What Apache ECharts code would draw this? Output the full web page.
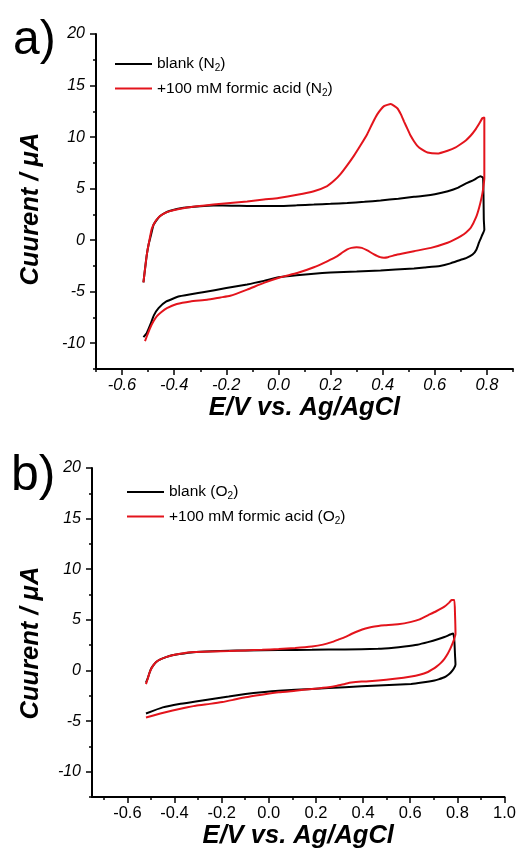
<!DOCTYPE html>
<html>
<head>
<meta charset="utf-8">
<script src="https://cdn.jsdelivr.net/npm/echarts@6/dist/echarts.min.js"></script>
<style>html,body{margin:0;padding:0;background:#fff}#c{width:519px;height:865px}</style>
</head>
<body>
<div id="c"></div>
<script>
// ---- Data (E in V vs Ag/AgCl, current in µA) ----
const blankN2 = [[-0.518,-4.1],[-0.51,-2.4],[-0.505,-1.4],[-0.498,-0.4],[-0.49,0.4],[-0.479,1.5],[-0.466,2.0],[-0.454,2.35],[-0.435,2.65],[-0.415,2.85],[-0.39,3.02],[-0.364,3.15],[-0.3,3.3],[-0.249,3.36],[-0.18,3.34],[-0.12,3.32],[0.0,3.32],[0.07,3.38],[0.136,3.45],[0.2,3.52],[0.264,3.6],[0.33,3.72],[0.392,3.85],[0.46,4.02],[0.52,4.2],[0.56,4.3],[0.6,4.45],[0.65,4.75],[0.69,5.1],[0.72,5.5],[0.75,5.85],[0.775,6.2],[0.785,6.05],[0.787,4.0],[0.788,2.0],[0.79,1.0],[0.78,0.4],[0.77,-0.2],[0.76,-0.9],[0.745,-1.4],[0.72,-1.75],[0.7,-1.9],[0.66,-2.25],[0.62,-2.5],[0.56,-2.65],[0.52,-2.74],[0.45,-2.85],[0.392,-2.95],[0.3,-3.05],[0.2,-3.15],[0.136,-3.25],[0.07,-3.4],[0.0,-3.6],[-0.056,-3.95],[-0.12,-4.3],[-0.2,-4.65],[-0.29,-5.05],[-0.38,-5.45],[-0.43,-5.95],[-0.46,-6.6],[-0.478,-7.3],[-0.49,-8.1],[-0.505,-9.0],[-0.518,-9.4]];
const formicN2 = [[-0.518,-4.1],[-0.51,-2.4],[-0.505,-1.4],[-0.498,-0.4],[-0.486,1.1],[-0.47,1.9],[-0.454,2.35],[-0.43,2.7],[-0.403,2.9],[-0.36,3.12],[-0.313,3.28],[-0.25,3.45],[-0.185,3.6],[-0.12,3.75],[-0.056,3.95],[0.0,4.1],[0.072,4.4],[0.136,4.75],[0.187,5.25],[0.215,5.8],[0.238,6.4],[0.265,7.3],[0.29,8.2],[0.315,9.2],[0.341,10.3],[0.36,11.3],[0.379,12.2],[0.405,13.0],[0.431,13.2],[0.456,12.8],[0.47,12.2],[0.482,11.5],[0.495,10.8],[0.508,10.1],[0.52,9.6],[0.533,9.15],[0.55,8.8],[0.572,8.5],[0.61,8.4],[0.649,8.68],[0.68,9.0],[0.7,9.33],[0.72,9.7],[0.738,10.15],[0.755,10.7],[0.77,11.3],[0.783,11.85],[0.79,11.9],[0.79,9.0],[0.79,6.0],[0.785,4.9],[0.78,4.2],[0.77,3.15],[0.758,2.2],[0.738,1.2],[0.72,0.75],[0.7,0.4],[0.675,0.05],[0.649,-0.25],[0.585,-0.75],[0.52,-1.07],[0.456,-1.4],[0.42,-1.65],[0.405,-1.7],[0.39,-1.65],[0.365,-1.35],[0.341,-1.0],[0.32,-0.75],[0.3,-0.68],[0.28,-0.75],[0.264,-0.9],[0.245,-1.2],[0.226,-1.55],[0.187,-2.05],[0.136,-2.63],[0.072,-3.19],[0.008,-3.6],[-0.056,-4.15],[-0.12,-4.8],[-0.185,-5.4],[-0.223,-5.56],[-0.274,-5.78],[-0.338,-5.95],[-0.39,-6.2],[-0.428,-6.6],[-0.45,-7.0],[-0.467,-7.4],[-0.48,-7.9],[-0.492,-8.5],[-0.503,-9.2],[-0.512,-9.8]];
const blankO2 = [[-0.521,-1.2],[-0.514,-0.8],[-0.507,-0.3],[-0.5,0.15],[-0.49,0.5],[-0.479,0.82],[-0.46,1.1],[-0.436,1.32],[-0.41,1.5],[-0.38,1.62],[-0.32,1.8],[-0.24,1.9],[-0.17,1.95],[-0.099,1.98],[0.042,2.02],[0.183,2.04],[0.323,2.08],[0.464,2.14],[0.53,2.25],[0.576,2.37],[0.63,2.55],[0.675,2.8],[0.72,3.1],[0.745,3.3],[0.77,3.55],[0.782,3.65],[0.787,3.0],[0.79,1.5],[0.792,0.6],[0.785,0.2],[0.772,-0.2],[0.76,-0.45],[0.745,-0.67],[0.72,-0.88],[0.703,-1.0],[0.65,-1.2],[0.604,-1.33],[0.464,-1.49],[0.323,-1.65],[0.183,-1.82],[0.042,-2.0],[-0.03,-2.15],[-0.099,-2.33],[-0.17,-2.58],[-0.24,-2.82],[-0.31,-3.07],[-0.38,-3.31],[-0.45,-3.65],[-0.521,-4.25]];
const formicO2 = [[-0.521,-1.35],[-0.514,-0.85],[-0.507,-0.3],[-0.5,0.1],[-0.49,0.5],[-0.479,0.82],[-0.46,1.1],[-0.436,1.32],[-0.4,1.55],[-0.35,1.75],[-0.31,1.82],[-0.24,1.88],[-0.169,1.92],[-0.1,1.98],[-0.028,2.04],[0.042,2.12],[0.112,2.22],[0.183,2.37],[0.23,2.55],[0.267,2.8],[0.295,3.05],[0.323,3.3],[0.35,3.6],[0.38,3.9],[0.41,4.15],[0.436,4.3],[0.465,4.4],[0.492,4.46],[0.548,4.56],[0.604,4.8],[0.64,5.05],[0.675,5.45],[0.71,5.85],[0.745,6.3],[0.765,6.7],[0.775,6.95],[0.787,6.95],[0.79,5.5],[0.792,3.6],[0.785,3.0],[0.78,2.7],[0.77,2.15],[0.759,1.65],[0.745,1.15],[0.73,0.75],[0.71,0.35],[0.69,0.05],[0.675,-0.15],[0.64,-0.42],[0.604,-0.6],[0.534,-0.83],[0.464,-1.0],[0.394,-1.1],[0.35,-1.2],[0.323,-1.33],[0.29,-1.5],[0.253,-1.65],[0.183,-1.83],[0.112,-2.0],[0.042,-2.16],[-0.03,-2.4],[-0.099,-2.65],[-0.15,-2.9],[-0.197,-3.12],[-0.25,-3.3],[-0.31,-3.48],[-0.36,-3.7],[-0.408,-3.95],[-0.46,-4.25],[-0.521,-4.65]];

// ---- Ticks / labels ----
const xLabelsTop = [-0.6,-0.4,-0.2,0.0,0.2,0.4,0.6,0.8];
const xMinorTop = [-0.7,-0.6,-0.5,-0.4,-0.3,-0.2,-0.1,0.0,0.1,0.2,0.3,0.4,0.5,0.6,0.7,0.8,0.9];
const xLabelsBottom = [-0.6,-0.4,-0.2,0.0,0.2,0.4,0.6,0.8,1.0];
const xMinorBottom = [-0.7,-0.6,-0.5,-0.4,-0.3,-0.2,-0.1,0.0,0.1,0.2,0.3,0.4,0.5,0.6,0.7,0.8,0.9,1.0];
const yLabels = [-10,-5,0,5,10,15,20];
const yMinor = [-12.5,-10,-7.5,-5,-2.5,0,2.5,5,7.5,10,12.5,15,17.5,20];
const seriesNames = {
  blankN2: 'blank (N2)', formicN2: '+100 mM formic acid (N2)',
  blankO2: 'blank (O2)', formicO2: '+100 mM formic acid (O2)'
};

const FONT = "'Liberation Sans', Arial, Helvetica, sans-serif";
const RED = '#e3141c';
const BLACK = '#000000';

function minorX(grid, min, max, ticks) {
  return { gridIndex: grid, type: 'value', min, max, position: 'bottom',
    axisLine: { onZero: false, lineStyle: { color: BLACK, width: 2 } },
    axisTick: { customValues: ticks, length: 3, lineStyle: { color: BLACK, width: 1.5 } },
    axisLabel: { show: false }, splitLine: { show: false } };
}
function majorX(grid, min, max, labels, italic, gap) {
  return { gridIndex: grid, type: 'value', min, max, position: 'bottom',
    axisLine: { onZero: false, show: false },
    axisTick: { customValues: labels, length: 6, lineStyle: { color: BLACK, width: 1.5 } },
    axisLabel: { customValues: labels, formatter: v => v.toFixed(1), color: BLACK,
      fontFamily: FONT, fontSize: 16.5, fontStyle: italic ? 'italic' : 'normal', margin: 8 },
    splitLine: { show: false },
    name: 'E/V vs. Ag/AgCl', nameLocation: 'middle', nameGap: gap,
    nameTextStyle: { fontFamily: FONT, fontSize: 25.5, fontWeight: 'bold', fontStyle: 'italic', color: BLACK } };
}
function minorY(grid) {
  return { gridIndex: grid, type: 'value', min: -12.5, max: 20, position: 'left',
    axisLine: { onZero: false, lineStyle: { color: BLACK, width: 2 } },
    axisTick: { customValues: yMinor, length: 3, lineStyle: { color: BLACK, width: 1.5 } },
    axisLabel: { show: false }, splitLine: { show: false } };
}
function majorY(grid) {
  return { gridIndex: grid, type: 'value', min: -12.5, max: 20, position: 'left', offset: 0,
    axisLine: { onZero: false, show: false },
    axisTick: { customValues: yLabels, length: 6, lineStyle: { color: BLACK, width: 1.5 } },
    axisLabel: { customValues: yLabels, formatter: v => String(v), color: BLACK,
      fontFamily: FONT, fontSize: 16, fontStyle: 'italic', margin: 11 },
    splitLine: { show: false } };
}
function line(name, data, color, xi, yi) {
  return { type: 'line', name, data, xAxisIndex: xi, yAxisIndex: yi,
    showSymbol: false, symbol: 'none', smooth: 0.15, z: color === RED ? 3 : 2,
    lineStyle: { color, width: 2 }, itemStyle: { color } };
}
const legendRich = { s: { fontFamily: FONT, fontSize: 10, color: BLACK, padding: [9, 0, 0, 0] } };
const legendFmt = n => n.replace(/\(([NO])2\)/, '($1{s|2})');
function legend(names, left, top) {
  return { data: names, orient: 'vertical', left, top, icon: 'rect',
    itemWidth: 37, itemHeight: 2, itemGap: 6, selectedMode: false,
    formatter: legendFmt,
    textStyle: { fontFamily: FONT, fontSize: 15.5, color: BLACK, lineHeight: 18, rich: legendRich } };
}

const chart = echarts.init(document.getElementById('c'), null, { renderer: 'canvas' });
chart.setOption({
  animation: false,
  backgroundColor: '#ffffff',
  grid: [
    { left: 96, top: 34, width: 417, height: 335 },
    { left: 92, top: 468, width: 415, height: 329 }
  ],
  xAxis: [
    minorX(0, -0.7, 0.9, xMinorTop),
    majorX(0, -0.7, 0.9, xLabelsTop, true, 21),
    minorX(1, -0.75, 1.0, xMinorBottom),
    majorX(1, -0.75, 1.0, xLabelsBottom, false, 25)
  ],
  yAxis: [ minorY(0), majorY(0), minorY(1), majorY(1) ],
  legend: [
    legend([seriesNames.blankN2, seriesNames.formicN2], 110, 50),
    legend([seriesNames.blankO2, seriesNames.formicO2], 122, 478)
  ],
  graphic: [
    { type: 'text', x: 13, y: 41, style: { text: 'a)', font: `48px ${FONT}`, fill: BLACK, align: 'left', verticalAlign: 'middle' } },
    { type: 'text', x: 11, y: 476, style: { text: 'b)', font: `50px ${FONT}`, fill: BLACK, align: 'left', verticalAlign: 'middle' } },
    { type: 'text', x: 31, y: 209, rotation: Math.PI / 2, style: { text: 'Cuurent / μA', font: `italic bold 25.5px ${FONT}`, fill: BLACK, align: 'center', verticalAlign: 'middle' } },
    { type: 'text', x: 31, y: 643, rotation: Math.PI / 2, style: { text: 'Cuurent / μA', font: `italic bold 25.5px ${FONT}`, fill: BLACK, align: 'center', verticalAlign: 'middle' } }
  ],
  series: [
    line(seriesNames.blankN2, blankN2, BLACK, 0, 0),
    line(seriesNames.formicN2, formicN2, RED, 0, 0),
    line(seriesNames.blankO2, blankO2, BLACK, 2, 2),
    line(seriesNames.formicO2, formicO2, RED, 2, 2)
  ]
});
</script>
</body>
</html>
